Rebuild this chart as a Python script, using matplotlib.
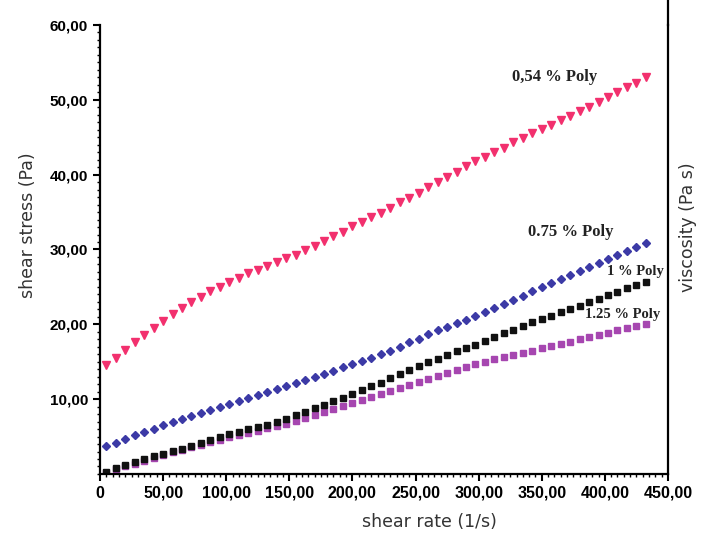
import matplotlib
matplotlib.use("Agg")
import matplotlib.pyplot as plt
from matplotlib.ticker import MultipleLocator, FixedLocator, FuncFormatter

# shear rate (1/s) of the measured points
shear_rate = [5.0, 12.5, 20.0, 27.5, 35.0, 42.5, 50.0, 57.5, 65.0, 72.5,
              80.0, 87.5, 95.0, 102.5, 110.0, 117.5, 125.0, 132.5, 140.0, 147.5,
              155.0, 162.5, 170.0, 177.5, 185.0, 192.5, 200.0, 207.5, 215.0, 222.5,
              230.0, 237.5, 245.0, 252.5, 260.0, 267.5, 275.0, 282.5, 290.0, 297.5,
              305.0, 312.5, 320.0, 327.5, 335.0, 342.5, 350.0, 357.5, 365.0, 372.5,
              380.0, 387.5, 395.0, 402.5, 410.0, 417.5, 425.0, 432.5]

# shear stress (Pa)
poly_054 = [14.5, 15.5, 16.6, 17.6, 18.6, 19.5, 20.5, 21.4, 22.2, 23.0,
            23.7, 24.4, 25.0, 25.6, 26.2, 26.8, 27.3, 27.8, 28.3, 28.8,
            29.3, 29.9, 30.5, 31.1, 31.8, 32.4, 33.1, 33.7, 34.3, 34.9,
            35.6, 36.3, 36.9, 37.6, 38.3, 39.0, 39.7, 40.4, 41.1, 41.8,
            42.4, 43.0, 43.6, 44.3, 44.9, 45.5, 46.1, 46.7, 47.3, 47.9,
            48.5, 49.1, 49.7, 50.4, 51.0, 51.7, 52.3, 53.0]
poly_075 = [3.7, 4.2, 4.7, 5.2, 5.6, 6.0, 6.5, 6.9, 7.4, 7.8,
            8.2, 8.6, 9.0, 9.4, 9.8, 10.2, 10.6, 10.9, 11.3, 11.7,
            12.1, 12.5, 13.0, 13.4, 13.8, 14.3, 14.7, 15.1, 15.5, 16.0,
            16.5, 17.0, 17.6, 18.1, 18.7, 19.2, 19.7, 20.2, 20.6, 21.1,
            21.6, 22.2, 22.7, 23.3, 23.8, 24.4, 25.0, 25.5, 26.1, 26.6,
            27.1, 27.6, 28.2, 28.7, 29.2, 29.8, 30.3, 30.9]
poly_100 = [0.3, 0.8, 1.2, 1.6, 2.0, 2.4, 2.7, 3.1, 3.4, 3.8,
            4.2, 4.6, 5.0, 5.3, 5.6, 6.0, 6.3, 6.6, 7.0, 7.4,
            7.9, 8.3, 8.8, 9.2, 9.7, 10.2, 10.7, 11.2, 11.7, 12.2,
            12.8, 13.3, 13.9, 14.4, 14.9, 15.4, 15.9, 16.4, 16.9, 17.3,
            17.8, 18.3, 18.8, 19.3, 19.8, 20.3, 20.7, 21.1, 21.6, 22.1,
            22.5, 23.0, 23.4, 23.9, 24.3, 24.8, 25.2, 25.6]
poly_125 = [0.1, 0.6, 1.0, 1.4, 1.8, 2.2, 2.5, 2.9, 3.2, 3.6,
            3.9, 4.3, 4.6, 4.9, 5.2, 5.5, 5.8, 6.1, 6.4, 6.7,
            7.1, 7.5, 7.9, 8.3, 8.7, 9.1, 9.5, 9.9, 10.3, 10.7,
            11.1, 11.5, 11.9, 12.3, 12.7, 13.1, 13.5, 13.9, 14.3, 14.7,
            15.0, 15.3, 15.6, 15.9, 16.2, 16.5, 16.8, 17.1, 17.4, 17.7,
            18.0, 18.3, 18.6, 18.9, 19.2, 19.5, 19.8, 20.1]

labels = ["0,54 % Poly", "0.75 % Poly", "1 % Poly", "1.25 % Poly"]
label_pos = [(360, 53.0), (373, 32.3), (424, 27.0), (414, 21.3)]
label_size = [12, 12, 10.5, 10.5]

x_ticks = [0, 50, 100, 150, 200, 250, 300, 350, 400, 450]
y_ticks = [10, 20, 30, 40, 50, 60]

fig = plt.figure(figsize=(7.05, 5.34), dpi=100)
ax = fig.add_axes([0.1418, 0.1124, 0.8057, 0.8408])

ax.plot(shear_rate, poly_054, ls="none", marker="v", ms=5.5, color="#f2306e")
ax.plot(shear_rate, poly_075, ls="none", marker="D", ms=3.8, color="#3c3aa6")
ax.plot(shear_rate, poly_125, ls="none", marker="s", ms=4.8, color="#a646b0")
ax.plot(shear_rate, poly_100, ls="none", marker="s", ms=4.3, color="#111111")

for txt, (tx, ty), fs in zip(labels, label_pos, label_size):
    ax.text(tx, ty, txt, family="Liberation Serif", fontsize=fs,
            fontweight="bold", ha="center", va="center", color="#222222")

ax.set_xlim(0, 450)
ax.set_ylim(0, 60)
ax.xaxis.set_major_locator(FixedLocator(x_ticks))
ax.xaxis.set_minor_locator(MultipleLocator(5))
ax.yaxis.set_major_locator(FixedLocator(y_ticks))
ax.yaxis.set_minor_locator(MultipleLocator(1))
ax.xaxis.set_major_formatter(FuncFormatter(lambda v, p: "0" if v == 0 else f"{v:.2f}".replace(".", ",")))
ax.yaxis.set_major_formatter(FuncFormatter(lambda v, p: f"{v:.2f}".replace(".", ",")))

ax.tick_params(which="major", direction="out", length=5, width=1.5, colors="black")
ax.tick_params(which="minor", direction="out", length=2.5, width=1.0)
for lab in ax.get_xticklabels():
    lab.set_fontweight("bold")
    lab.set_fontsize(11.5)
    lab.set_family("Liberation Sans")
for lab in ax.get_yticklabels():
    lab.set_fontweight("bold")
    lab.set_fontsize(11)
    lab.set_family("Liberation Sans")

ax.spines["top"].set_visible(False)
for s in ("left", "bottom", "right"):
    ax.spines[s].set_linewidth(1.6)
ax.plot([1, 1], [1, 1.06], transform=ax.transAxes, color="black", lw=1.6, clip_on=False)

ax.text(-0.127, 0.555, "shear stress (Pa)", transform=ax.transAxes, rotation=90,
        ha="center", va="center", fontsize=12.5, color="#333333")
ax.text(0.58, -0.107, "shear rate (1/s)", transform=ax.transAxes,
        ha="center", va="center", fontsize=12.5, color="#333333")
ax.text(1.035, 0.55, "viscosity (Pa s)", transform=ax.transAxes, rotation=90,
        ha="center", va="center", fontsize=12.5, color="#333333")

fig.savefig("out.png", dpi=100)
